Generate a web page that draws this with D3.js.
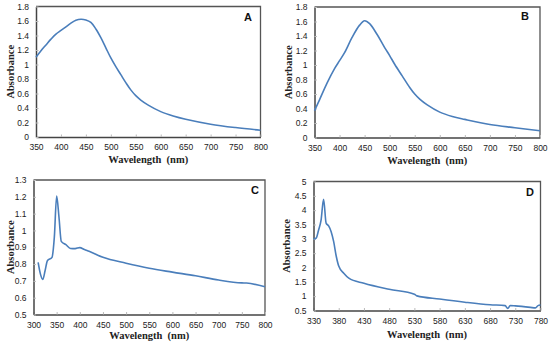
<!DOCTYPE html>
<html>
<head>
<meta charset="utf-8">
<script src="https://cdn.jsdelivr.net/npm/d3@7"></script>
<style>
  body { margin: 0; background: #fff; }
  .tick text { font-family: "Liberation Sans", Arial, sans-serif; font-size: 8.5px; fill: #222; }
  .title { font-family: "Liberation Serif", "Times New Roman", serif; font-weight: bold; font-size: 10.5px; fill: #222; }
  .letter { font-family: "Liberation Sans", Arial, sans-serif; font-weight: bold; font-size: 11px; fill: #111; }
</style>
</head>
<body>
<div id="chart"></div>
<script>
// spectrum A
const wavelengthA = [350, 360, 370, 380, 390, 400, 410, 420, 430, 440, 450, 460, 470, 480, 490, 500, 510, 520, 530, 540, 550, 560, 575, 600, 625, 650, 700, 750, 800];
const absorbanceA = [1.1, 1.19, 1.27, 1.35, 1.42, 1.47, 1.52, 1.57, 1.61, 1.625, 1.615, 1.58, 1.49, 1.37, 1.23, 1.09, 0.97, 0.86, 0.75, 0.65, 0.57, 0.51, 0.44, 0.35, 0.29, 0.245, 0.177, 0.13, 0.093];

// spectrum B
const wavelengthB = [350, 360, 375, 390, 400, 410, 425, 440, 450, 460, 475, 490, 500, 510, 525, 540, 550, 560, 575, 600, 625, 650, 700, 750, 800];
const absorbanceB = [0.37, 0.52, 0.75, 0.95, 1.06, 1.17, 1.38, 1.55, 1.61, 1.57, 1.42, 1.24, 1.13, 1.01, 0.85, 0.69, 0.6, 0.53, 0.45, 0.35, 0.29, 0.25, 0.18, 0.135, 0.093];

// spectrum C
const wavelengthC = [310, 315, 320, 325, 330, 340, 345, 350, 355, 360, 370, 380, 390, 400, 410, 420, 450, 500, 550, 600, 650, 700, 750, 760, 800];
const absorbanceC = [0.81, 0.74, 0.708, 0.76, 0.82, 0.84, 0.96, 1.205, 1.08, 0.935, 0.915, 0.893, 0.892, 0.898, 0.886, 0.876, 0.84, 0.805, 0.775, 0.752, 0.73, 0.705, 0.688, 0.687, 0.665];

// spectrum D
const wavelengthD = [330, 335, 340, 345, 350, 355, 360, 365, 370, 375, 380, 390, 400, 430, 480, 530, 535, 580, 630, 680, 710, 715, 720, 730, 760, 770, 775, 780];
const absorbanceD = [3.0, 3.02, 3.3, 3.65, 4.38, 3.55, 3.45, 3.25, 2.9, 2.4, 2.05, 1.8, 1.63, 1.45, 1.24, 1.07, 1.01, 0.9, 0.79, 0.7, 0.67, 0.57, 0.67, 0.66, 0.61, 0.59, 0.67, 0.69];

const ticksXA = [350, 400, 450, 500, 550, 600, 650, 700, 750, 800];
const ticksYA = [0, 0.2, 0.4, 0.6, 0.8, 1, 1.2, 1.4, 1.6, 1.8];
const ticksXC = [300, 350, 400, 450, 500, 550, 600, 650, 700, 750, 800];
const ticksYC = [0.5, 0.6, 0.7, 0.8, 0.9, 1, 1.1, 1.2, 1.3];
const ticksXD = [330, 380, 430, 480, 530, 580, 630, 680, 730, 780];
const ticksYD = [0.5, 1, 1.5, 2, 2.5, 3, 3.5, 4, 4.5, 5];

const width = 550, height = 346;
const svg = d3.select("#chart").append("svg")
  .attr("width", width)
  .attr("height", height);

const panels = [
  { label: "A", x: wavelengthA, y: absorbanceA, xDomain: [350, 800], yDomain: [0, 1.8], xTicks: ticksXA, yTicks: ticksYA, smooth: true,
    box: { left: 36, right: 260.5, top: 6.5, bottom: 137 }, yTitleX: 10, xTitleY: 163, letterX: 248, letterY: 21 },
  { label: "B", x: wavelengthB, y: absorbanceB, xDomain: [350, 800], yDomain: [0, 1.8], xTicks: ticksXA, yTicks: ticksYA, smooth: true,
    box: { left: 314.5, right: 540, top: 7, bottom: 137.5 }, yTitleX: 288, xTitleY: 164, letterX: 525, letterY: 20 },
  { label: "C", x: wavelengthC, y: absorbanceC, xDomain: [300, 800], yDomain: [0.5, 1.3], xTicks: ticksXC, yTicks: ticksYC, smooth: false,
    box: { left: 33.5, right: 265, top: 180, bottom: 314.5 }, yTitleX: 10, xTitleY: 339, letterX: 255, letterY: 194 },
  { label: "D", x: wavelengthD, y: absorbanceD, xDomain: [330, 780], yDomain: [0.5, 5], xTicks: ticksXD, yTicks: ticksYD, smooth: false,
    box: { left: 313.5, right: 540.5, top: 181.5, bottom: 310.5 }, yTitleX: 286, xTitleY: 338, letterX: 530, letterY: 196 }
];

panels.forEach(p => {
  const b = p.box;
  const x = d3.scaleLinear().domain(p.xDomain).range([b.left, b.right]);
  const y = d3.scaleLinear().domain(p.yDomain).range([b.bottom, b.top]);
  const g = svg.append("g");

  // frame (top and right)
  g.append("path")
    .attr("d", `M${b.left},${b.top}H${b.right}V${b.bottom}`)
    .attr("fill", "none")
    .attr("stroke", "#555")
    .attr("stroke-width", 1.3);

  const xAxis = g.append("g")
    .attr("transform", `translate(0,${b.bottom})`)
    .call(d3.axisBottom(x).tickValues(p.xTicks).tickSizeInner(-2.5).tickSizeOuter(0).tickPadding(7).tickFormat(d3.format("d")));
  const yAxis = g.append("g")
    .attr("transform", `translate(${b.left},0)`)
    .call(d3.axisLeft(y).tickValues(p.yTicks).tickSizeInner(-2.5).tickSizeOuter(0).tickPadding(7).tickFormat(d => String(+d.toFixed(1))));
  [xAxis, yAxis].forEach(a => {
    a.select(".domain").attr("stroke", "#444").attr("stroke-width", 1.5);
    a.selectAll(".tick line").attr("stroke", "#bbb");
  });

  const pts = p.x.map((d, i) => [d, p.y[i]]);
  g.append("path")
    .datum(pts)
    .attr("fill", "none")
    .attr("stroke", "#4a7ebb")
    .attr("stroke-width", 1.6)
    .attr("d", d3.line().x(d => x(d[0])).y(d => y(d[1]))
      .curve(p.smooth ? d3.curveCatmullRom.alpha(0.5) : d3.curveMonotoneX));

  g.append("text")
    .attr("class", "title")
    .attr("x", (b.left + b.right) / 2)
    .attr("y", p.xTitleY)
    .attr("text-anchor", "middle")
    .text("Wavelength  (nm)")
    .style("white-space", "pre");

  g.append("text")
    .attr("class", "title")
    .attr("transform", `translate(${p.yTitleX},${(b.top + b.bottom) / 2}) rotate(-90)`)
    .attr("text-anchor", "middle")
    .attr("dy", "0.35em")
    .text("Absorbance");

  g.append("text")
    .attr("class", "letter")
    .attr("x", p.letterX)
    .attr("y", p.letterY)
    .attr("text-anchor", "middle")
    .text(p.label);
});
</script>
</body>
</html>
